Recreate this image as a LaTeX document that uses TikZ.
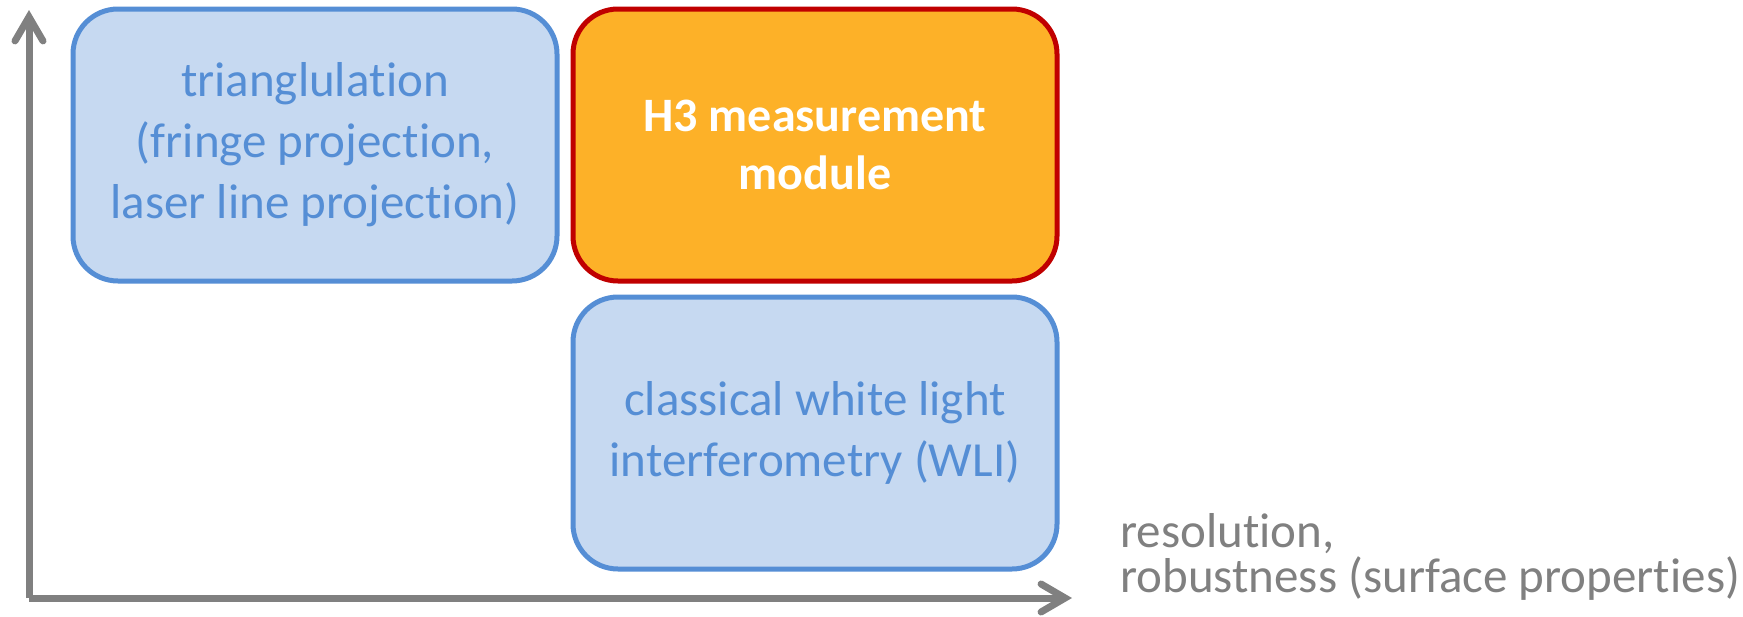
\documentclass[tikz,border=0pt]{standalone}
\usepackage{fontspec}
\setmainfont{Carlito}[Ligatures={CommonOff,ContextualOff,RareOff},RawFeature={-liga;-clig;-calt}]
\usetikzlibrary{arrows.meta}
\definecolor{boxblue}{HTML}{C6D9F1}
\definecolor{edgeblue}{HTML}{558ED5}
\definecolor{boxorange}{HTML}{FDB128}
\definecolor{edgered}{HTML}{C00000}
\definecolor{axisgray}{HTML}{808080}
\tikzset{
  bluebox/.style={draw=edgeblue, fill=boxblue, line width=5pt, rounded corners=45pt,
    minimum width=484pt, minimum height=272pt, align=center, text=edgeblue,
    font=\fontsize{49}{61}\selectfont},
  h3box/.style={draw=edgered, fill=boxorange, line width=5pt, rounded corners=45pt,
    minimum width=484pt, minimum height=272pt, align=center, text=white,
    font=\fontsize{48}{58}\selectfont\bfseries},
  axis/.style={draw=axisgray, line width=7pt,
    -{Straight Barb[length=24pt,width=28pt,line cap=round]}},
  axislabel/.style={text=axisgray, align=left, anchor=west, inner sep=0pt,
    font=\fontsize{49}{45}\selectfont}
}
\begin{document}
\begin{tikzpicture}[x=1pt,y=-1pt]
\useasboundingbox (0,0) rectangle (1743,616);
\node[bluebox] (tri) at (315,145) {trianglula\kern0pt tion\\(fringe projec\kern0pt tion,\\laser line projec\kern0pt tion)};
\node[h3box] (h3) at (815,145) {H3 measurement\\module};
\node[bluebox] (wli) at (815,433) {classical white light\\interferometry (WLI)};
\coordinate (o) at (29,598);
\coordinate (ytop) at (29,10);
\coordinate (xend) at (1072,598);
\draw[axis] (o) -- (ytop);
\draw[axis] (o) -- (xend);
\node[axislabel] (lbl) at (1120,557) {resolu\kern0pt tion,\\robustness (surface proper\kern0pt ties)};
\end{tikzpicture}
\end{document}
